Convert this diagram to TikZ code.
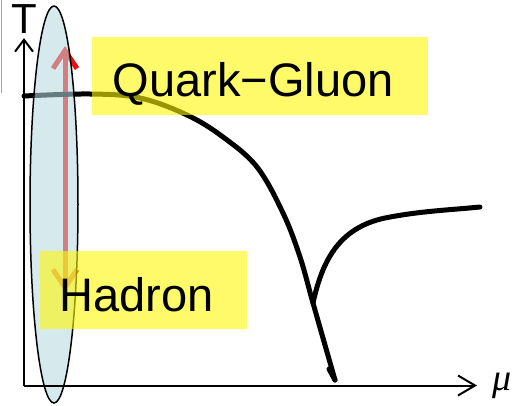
\documentclass[tikz,border=0pt]{standalone}
\usepackage{fontspec}
\setmainfont{Liberation Sans}
\newfontfamily\serifit{Liberation Serif}
\usetikzlibrary{arrows.meta}
\definecolor{ellfill}{RGB}{182,218,225}
\definecolor{boxyellow}{RGB}{255,247,5}
\definecolor{arrowred}{RGB}{245,10,10}
\tikzset{
  curveline/.style={line width=5pt, line cap=round, line join=round},
  axisline/.style={line width=2pt},
  phasebox/.style={rectangle, fill=boxyellow, fill opacity=0.6, inner sep=0},
  biglabel/.style={inner sep=0, anchor=base west, font=\fontsize{47}{47}\selectfont},
}
\begin{document}
\begin{tikzpicture}[x=1pt,y=-1pt]
\useasboundingbox (0,0) rectangle (517,405);
% coordinates
\coordinate (origin) at (24,385.5);
\coordinate (ytip) at (24,38);
\coordinate (xtip) at (477,385.5);
\coordinate (arrlow) at (65,292);
\coordinate (arrhigh) at (65,46);
\coordinate (junction) at (313,303);
% left grey rule
\draw[gray!70, line width=1.5pt] (1.5,0) -- (1.5,93);
% red double arrow
\draw[arrowred, line width=5pt, {Straight Barb[length=18pt,width=24pt]}-{Straight Barb[length=18pt,width=24pt]}] (arrlow) -- (arrhigh);
% phase boundary
\draw[curveline] plot[smooth, tension=0.6] coordinates {(24,96) (90,94) (140,98) (187,115) (223,137) (257,167) (283,213) (300,257) (313,303) (335,380)};
\draw[curveline] (335,380) -- (329,369);
\draw[curveline] (junction) .. controls (322,262) and (338,228) .. (385,218) .. controls (420,211) and (450,210) .. (480,207);
% ellipse
\draw[line width=1.5pt, fill=ellfill, fill opacity=0.565] (54,204.5) ellipse [x radius=24, y radius=198.5];
% axes
\draw[axisline, -{Straight Barb[length=12pt,width=18pt]}] (origin) -- (ytip);
\draw[axisline, -{Straight Barb[length=17pt,width=20pt]}] (origin) -- (xtip);
\node[inner sep=0, anchor=north, font=\fontsize{42}{42}\selectfont] (tlabel) at (24,4) {T};
\node[inner sep=0, font=\serifit\itshape\fontsize{38}{38}\selectfont] (mulabel) at (502,386) {μ};
% yellow boxes
\node[phasebox, minimum width=336pt, minimum height=78pt] (qgbox) at (260,76) {};
\node[phasebox, minimum width=207pt, minimum height=78pt] (hbox) at (143.5,290) {};
\node[biglabel] (qg) at (112.7,96.5) {Quark−Gluon};
\node[biglabel] (had) at (59,311.5) {Hadron};
\end{tikzpicture}
\end{document}
